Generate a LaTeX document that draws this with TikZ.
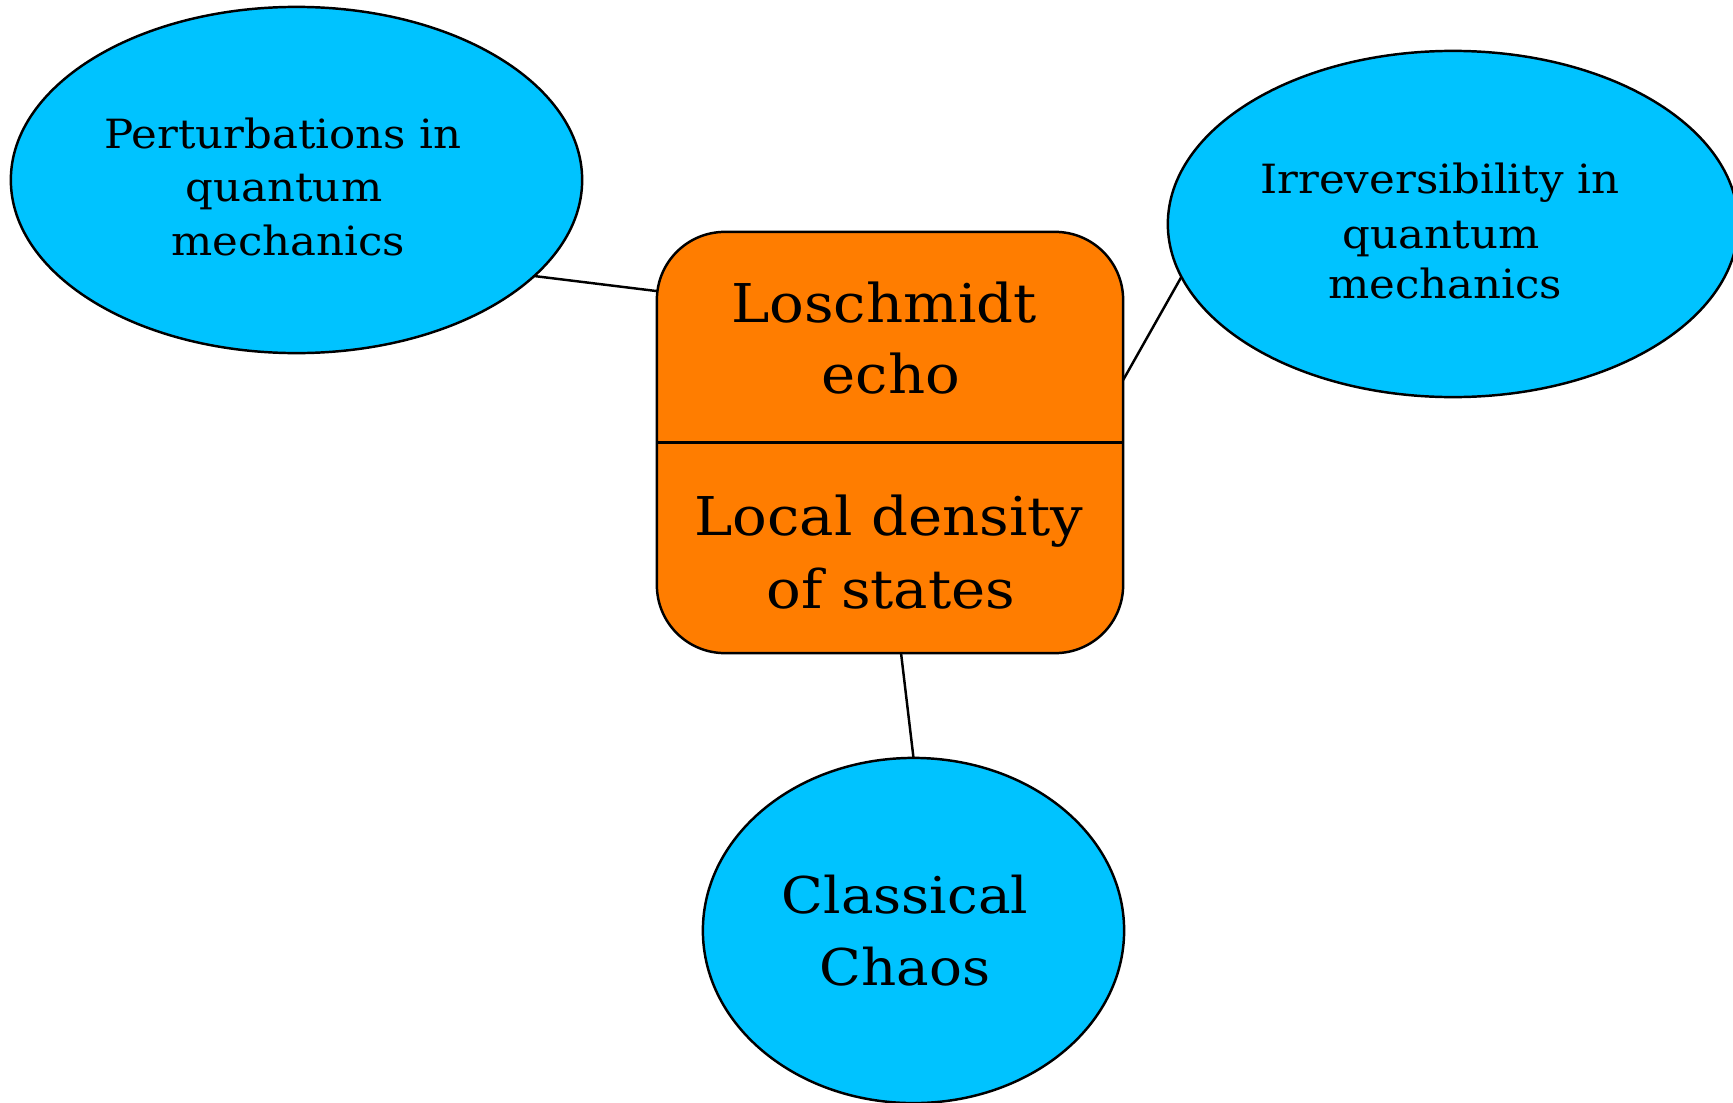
\documentclass[tikz,border=0pt]{standalone}
\usepackage{fontspec}
\setmainfont[FakeStretch=1.08]{DejaVu Serif}
\usetikzlibrary{shapes.geometric}
\definecolor{bubbleblue}{RGB}{0,195,255}
\definecolor{coreorange}{RGB}{255,125,0}
\begin{document}
\begin{tikzpicture}[x=0.01cm,y=-0.01cm,
  bubble/.style={ellipse, draw=black, fill=bubbleblue, line width=0.7pt, inner sep=0pt, outer sep=0pt},
  corebox/.style={rectangle, draw=black, fill=coreorange, line width=0.7pt, rounded corners=0.68cm, inner sep=0pt, outer sep=0pt},
  link/.style={draw=black, line width=0.7pt},
  smalltext/.style={anchor=base, font=\fontsize{11.45}{13}\selectfont, inner sep=0pt},
  bigtext/.style={anchor=base, font=\fontsize{15.2}{18}\selectfont, inner sep=0pt},
  midtext/.style={anchor=base, font=\fontsize{14.4}{17}\selectfont, inner sep=0pt}]
\useasboundingbox (0,0) rectangle (1733,1103);
\fill[white] (0,0) rectangle (1733,1103);
% shapes
\node[bubble, minimum width=5.71cm, minimum height=3.46cm] (pert) at (296.5,180) {};
\node[bubble, minimum width=5.70cm, minimum height=3.46cm] (irr) at (1453,224) {};
\node[bubble, minimum width=4.21cm, minimum height=3.45cm] (chaos) at (913.5,930.5) {};
\node[corebox, minimum width=4.66cm, minimum height=4.21cm] (box) at (890,442.5) {};
\draw[line width=0.7pt] (box.west) -- (box.east);
% connectors
\draw[link] (pert.-22.2) -- (box.147);
\draw[link] (box.15) -- (irr.191.8);
\draw[link] (box.-87.8) -- (chaos.90);
% texts
\node[smalltext] (p1) at (283,148) {Perturbations in};
\node[smalltext] (p2) at (284,201) {quantum};
\node[smalltext] (p3) at (288,255) {mechanics};
\node[smalltext] (i1) at (1440,193) {Irreversibility in};
\node[smalltext] (i2) at (1441,248) {quantum};
\node[smalltext] (i3) at (1445,298) {mechanics};
\node[bigtext] (l1) at (884,322) {Loschmidt};
\node[bigtext] (l2) at (891,393) {echo};
\node[bigtext] (d1) at (889,535) {Local density};
\node[bigtext] (d2) at (891,608) {of states};
\node[midtext] (c1) at (905,913) {Classical};
\node[midtext] (c2) at (905,985) {Chaos};
\end{tikzpicture}
\end{document}
